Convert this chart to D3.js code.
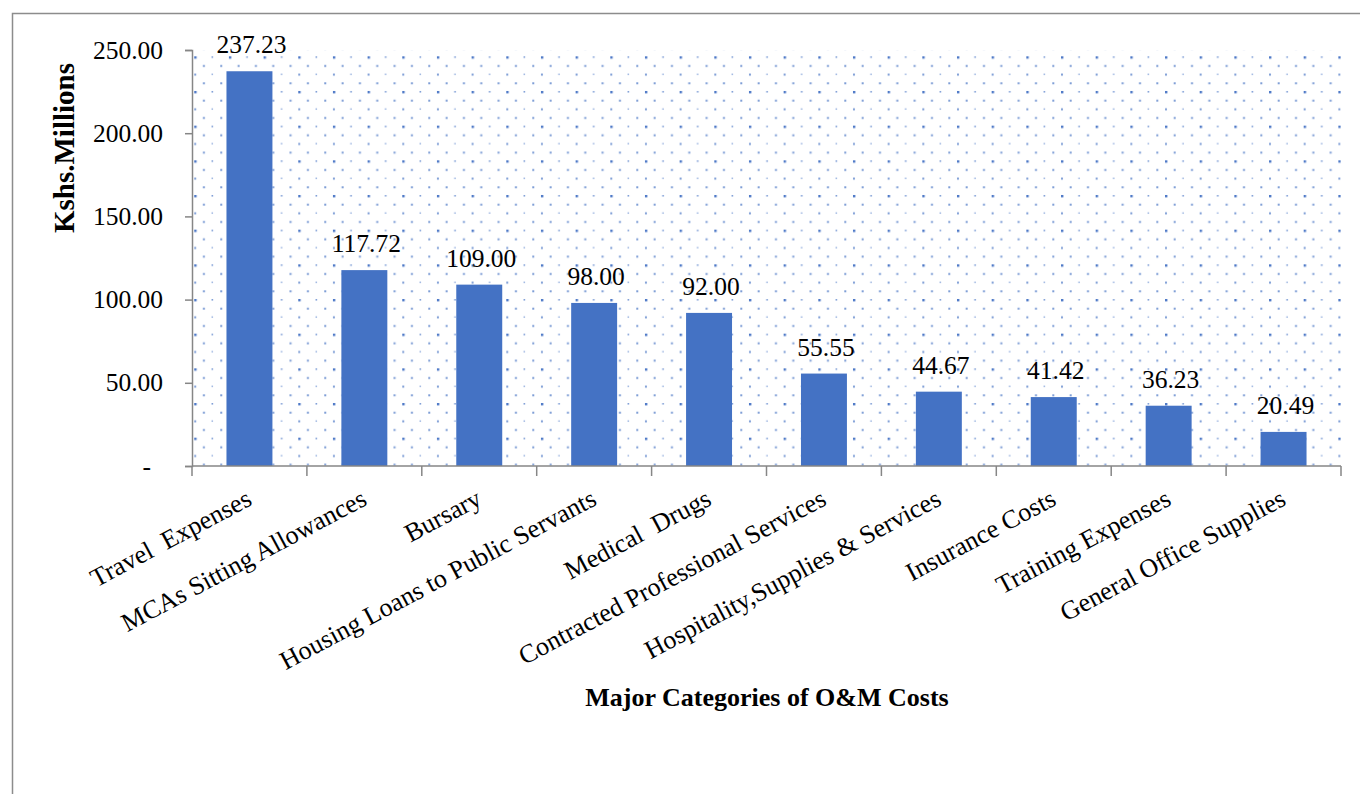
<!DOCTYPE html>
<html>
<head>
<meta charset="utf-8">
<script src="https://cdn.jsdelivr.net/npm/d3@7"></script>
<style>
  html, body { margin: 0; padding: 0; background: #fff; }
  svg { display: block; }
  text { font-family: "Liberation Serif", "Times New Roman", serif; fill: #000; }
</style>
</head>
<body>
<svg id="chart" width="1360" height="794"></svg>
<script>
const categories = [
  "Travel  Expenses",
  "MCAs Sitting Allowances",
  "Bursary",
  "Housing Loans to Public Servants",
  "Medical  Drugs",
  "Contracted Professional Services",
  "Hospitality,Supplies & Services",
  "Insurance Costs",
  "Training Expenses",
  "General Office Supplies"
];
const values = [237.23, 117.72, 109.00, 98.00, 92.00, 55.55, 44.67, 41.42, 36.23, 20.49];
const yTicks = [0, 50, 100, 150, 200, 250];
const yTitle = "Kshs.Millions";
const xTitle = "Major Categories of O&M Costs";

const SERIF = "'Liberation Serif', 'Times New Roman', serif";
const svg = d3.select("#chart");
const plot = { left: 192, right: 1341, top: 50, bottom: 466 };

// outer border
svg.append("rect")
  .attr("x", 12.5).attr("y", 13.5)
  .attr("width", 1400).attr("height", 900)
  .attr("fill", "#fff").attr("stroke", "#8c8c8c").attr("stroke-width", 1.5);

// dotted pattern
const defs = svg.append("defs");
const pat = defs.append("pattern")
  .attr("id", "dots")
  .attr("patternUnits", "userSpaceOnUse")
  .attr("width", 34.67).attr("height", 34.67)
  .attr("patternTransform", "translate(1165,56.3)");
const dotSpecs = [
  [0, 0, 2.4, 0.95], [17.33, 0, 1.6, 0.7],
  [8.67, 8.67, 2, 0.7], [26, 8.67, 2, 0.7],
  [0, 17.33, 2, 0.7], [17.33, 17.33, 1.5, 0.55],
  [8.67, 26, 2, 0.7], [26, 26, 2, 0.7]
];
pat.selectAll("rect").data(dotSpecs).join("rect")
  .attr("x", d => d[0]).attr("y", d => d[1])
  .attr("width", d => d[2]).attr("height", d => d[2])
  .attr("fill", "#4472C4").attr("fill-opacity", d => d[3]);

const x = d3.scaleBand()
  .domain(categories)
  .range([plot.left, plot.right])
  .paddingInner(0.6).paddingOuter(0.3);
const y = d3.scaleLinear().domain([0, 250]).range([plot.bottom, plot.top]);

svg.append("rect")
  .attr("x", plot.left).attr("y", plot.top)
  .attr("width", plot.right - plot.left).attr("height", plot.bottom - plot.top)
  .attr("fill", "url(#dots)");

// bars
svg.append("g").selectAll("rect").data(values).join("rect")
  .attr("x", (d, i) => x(categories[i]))
  .attr("y", d => y(d))
  .attr("width", x.bandwidth())
  .attr("height", d => y(0) - y(d))
  .attr("fill", "#4472C4");

// value labels
svg.append("g").selectAll("text").data(values).join("text")
  .attr("x", (d, i) => x(categories[i]) + x.bandwidth() / 2 + 2)
  .attr("y", d => y(d) - 18)
  .attr("text-anchor", "middle")
  .style("font-family", SERIF)
  .style("font-size", "25.5px")
  .text(d => d3.format(".2f")(d));

// y axis
const yAxis = d3.axisLeft(y).tickValues(yTicks).tickSize(7).tickPadding(22)
  .tickFormat(d => d === 0 ? "-" : d3.format(".2f")(d));
const gy = svg.append("g").attr("transform", `translate(${plot.left},0)`).call(yAxis);
gy.select(".domain").attr("stroke", "#868686").attr("stroke-width", 1.5);
gy.selectAll(".tick line").attr("stroke", "#868686").attr("stroke-width", 1.5);
gy.selectAll(".tick text")
  .style("font-family", SERIF)
  .style("font-size", "25.5px").attr("fill", "#000")
  .attr("dx", d => d === 0 ? "-12" : "0");

// x axis: boundary ticks
const boundaries = d3.range(categories.length + 1).map(i => plot.left + i * x.step());
svg.append("line")
  .attr("x1", plot.left).attr("x2", plot.right)
  .attr("y1", plot.bottom).attr("y2", plot.bottom)
  .attr("stroke", "#868686").attr("stroke-width", 1.5);
svg.append("g").selectAll("line").data(boundaries).join("line")
  .attr("x1", d => d).attr("x2", d => d)
  .attr("y1", plot.bottom).attr("y2", plot.bottom + 10)
  .attr("stroke", "#868686").attr("stroke-width", 1.5);

// x labels
svg.append("g").selectAll("text").data(categories).join("text")
  .attr("transform", d => `translate(${x(d) + x.bandwidth() / 2 + 4},${plot.bottom + 38}) rotate(-28)`)
  .attr("text-anchor", "end")
  .style("font-family", SERIF)
  .style("font-size", "26px")
  .style("white-space", "pre")
  .attr("xml:space", "preserve")
  .text(d => d);

// titles
svg.append("text")
  .attr("transform", "translate(74,148) rotate(-90)")
  .attr("text-anchor", "middle")
  .style("font-family", SERIF)
  .style("font-size", "29px").style("font-weight", "bold")
  .text(yTitle);
svg.append("text")
  .attr("x", 767).attr("y", 706)
  .attr("text-anchor", "middle")
  .style("font-family", SERIF)
  .style("font-size", "26px").style("font-weight", "bold")
  .text(xTitle);
</script>
</body>
</html>
